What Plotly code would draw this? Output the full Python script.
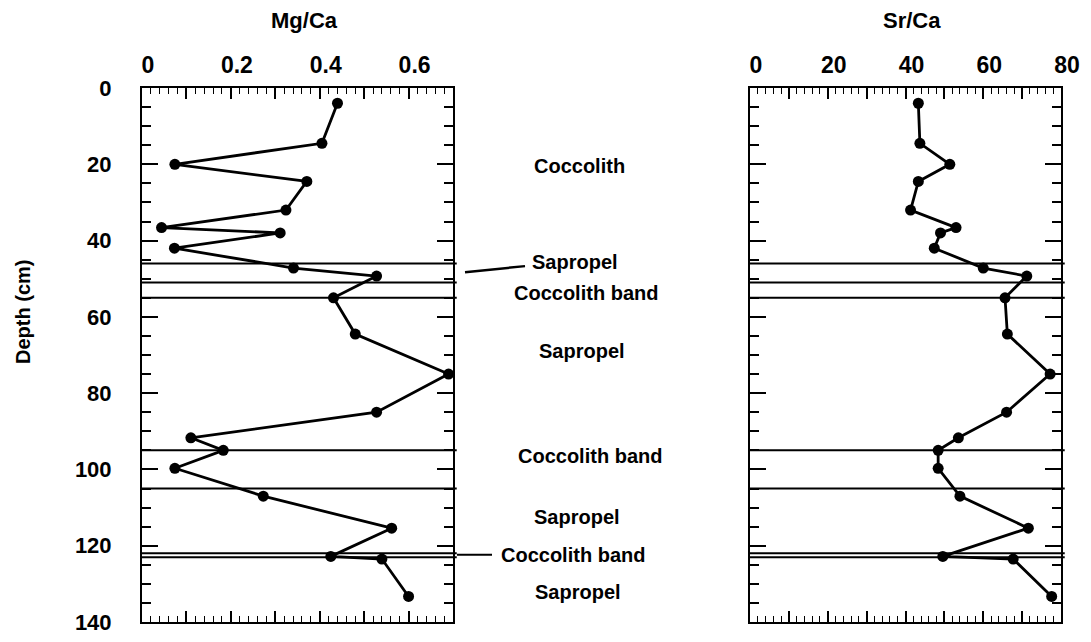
import plotly.graph_objects as go

# ---- data ----
depth = [4, 14.5, 20, 24.5, 32, 36.6, 38, 42, 47.2, 49.3, 55, 64.5, 75, 85,
         91.7, 95, 99.7, 107, 115.4, 122.8, 123.5, 133.3]
mg_ca = [0.44, 0.405, 0.074, 0.371, 0.324, 0.044, 0.311, 0.073, 0.341, 0.528,
         0.431, 0.48, 0.69, 0.528, 0.11, 0.183, 0.074, 0.273, 0.562, 0.425,
         0.54, 0.60]
sr_ca = [43.3, 43.7, 51.4, 43.3, 41.3, 53.0, 49.0, 47.4, 60.0, 71.2, 65.6,
         66.2, 77.2, 66.0, 53.6, 48.4, 48.4, 54.0, 71.6, 49.6, 67.7, 77.6]

band_boundaries = [46, 51, 55, 95, 105, 122, 123]
zone_labels = ["Coccolith", "Sapropel", "Coccolith band", "Sapropel",
               "Coccolith band", "Sapropel", "Coccolith band", "Sapropel"]
zone_label_depths = [20.5, 45.7, 53.8, 69, 96.4, 112.4, 122.4, 132.1]
zone_label_x = [0.531, 0.527, 0.537, 0.533, 0.541, 0.529, 0.525, 0.530]

mg_ticks = [0, 0.1, 0.2, 0.3, 0.4, 0.5, 0.6, 0.7]
mg_ticktext = ["0", "", "0.2", "", "0.4", "", "0.6", ""]
sr_ticks = [0, 10, 20, 30, 40, 50, 60, 70, 80]
sr_ticktext = ["0", "", "20", "", "40", "", "60", "", "80"]
depth_ticks = [0, 20, 40, 60, 80, 100, 120, 140]

FONT = "Liberation Sans, Arial, Helvetica, sans-serif"

fig = go.Figure()
fig.add_trace(go.Scatter(x=mg_ca, y=depth, mode="lines+markers",
                         line=dict(color="black", width=2.8),
                         marker=dict(color="black", size=11, symbol="circle"),
                         xaxis="x", yaxis="y", showlegend=False))
fig.add_trace(go.Scatter(x=sr_ca, y=depth, mode="lines+markers",
                         line=dict(color="black", width=2.8),
                         marker=dict(color="black", size=11, symbol="circle"),
                         xaxis="x2", yaxis="y2", showlegend=False))

common_x = dict(side="top", showline=True, linecolor="black", linewidth=2,
                mirror="allticks", ticks="inside", ticklen=11, tickwidth=1.5,
                tickcolor="black", showgrid=False, zeroline=False,
                automargin=False, ticklabelshift=6,
                tickfont=dict(family=FONT, size=23, color="black", weight="bold"),
                ticklabelstandoff=4)
common_y = dict(showline=True, linecolor="black", linewidth=2,
                mirror="allticks", ticks="inside", ticklen=16, tickwidth=1.5,
                tickcolor="black", showgrid=False, zeroline=False,
                automargin=False,
                range=[140, 0], tickvals=depth_ticks,
                minor=dict(dtick=5, ticks="inside", ticklen=9, tickwidth=1.5,
                           tickcolor="black", showgrid=False),
                tickfont=dict(family=FONT, size=22, color="black", weight="bold"))

fig.update_layout(
    width=1091, height=642,
    margin=dict(l=0, r=0, t=0, b=0, autoexpand=False),
    paper_bgcolor="white", plot_bgcolor="white",
    xaxis=dict(domain=[142/1091, 453/1091], range=[0, 0.7], anchor="y",
               tickvals=mg_ticks, ticktext=mg_ticktext,
               minor=dict(dtick=0.02, ticks="inside", ticklen=6, tickwidth=1.2,
                          tickcolor="black", showgrid=False),
               **common_x),
    xaxis2=dict(domain=[750/1091, 1061/1091], range=[0, 80], anchor="y2",
                tickvals=sr_ticks, ticktext=sr_ticktext,
                minor=dict(dtick=2, ticks="inside", ticklen=6, tickwidth=1.2,
                           tickcolor="black", showgrid=False),
                **common_x),
    yaxis=dict(domain=[1 - 622/642, 1 - 88/642], anchor="x",
               showticklabels=True, ticklabelstandoff=24, **common_y),
    yaxis2=dict(domain=[1 - 622/642, 1 - 88/642], anchor="x2",
                showticklabels=False, **common_y),
)

# band boundary lines in both panels
for d in band_boundaries:
    for xr, yr in (("x domain", "y"), ("x2 domain", "y2")):
        fig.add_shape(type="line", xref=xr, yref=yr, x0=0, x1=1.012, y0=d, y1=d,
                      line=dict(color="black", width=2))

# zone labels
for txt, d, xp in zip(zone_labels, zone_label_depths, zone_label_x):
    fig.add_annotation(text=txt, x=xp, y=d, xref="paper", yref="y",
                       showarrow=False, xanchor="center", yanchor="middle",
                       font=dict(family=FONT, size=20, color="black", weight="bold"))

# leader lines
fig.add_shape(type="line", xref="paper", yref="y",
              x0=465/1091, x1=525/1091, y0=48.3, y1=46.7,
              line=dict(color="black", width=2.5))
fig.add_shape(type="line", xref="paper", yref="y",
              x0=457/1091, x1=492/1091, y0=122.4, y1=122.4,
              line=dict(color="black", width=2))

# titles
fig.add_annotation(text="Mg/Ca", x=304/1091, y=1 - 20/642, xref="paper", yref="paper",
                   showarrow=False, xanchor="center", yanchor="middle",
                   font=dict(family=FONT, size=22, color="black", weight="bold"))
fig.add_annotation(text="Sr/Ca", x=912/1091, y=1 - 20/642, xref="paper", yref="paper",
                   showarrow=False, xanchor="center", yanchor="middle",
                   font=dict(family=FONT, size=22, color="black", weight="bold"))
fig.add_annotation(text="Depth (cm)", x=23/1091, y=1 - 312/642, xref="paper", yref="paper",
                   showarrow=False, textangle=-90, xanchor="center", yanchor="middle",
                   font=dict(family=FONT, size=20, color="black", weight="bold"))

fig.write_html("out.html")
